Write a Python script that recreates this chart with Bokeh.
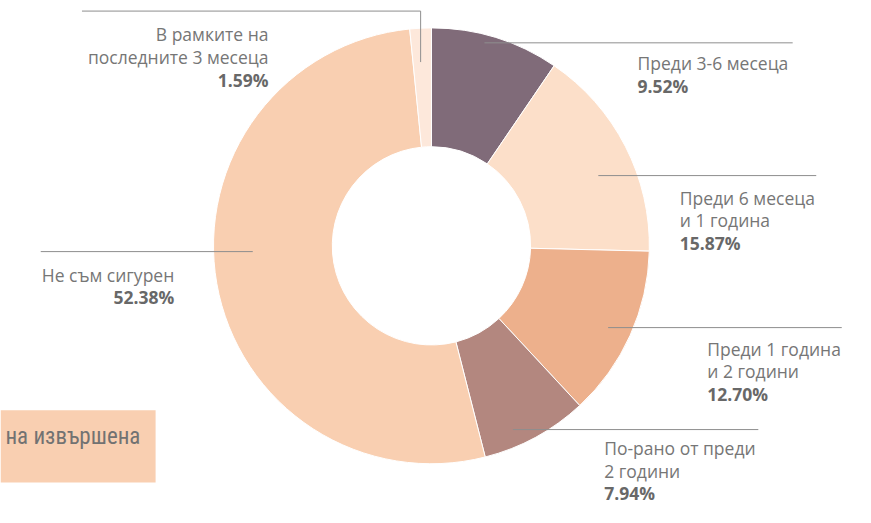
import math
from bokeh.plotting import figure
from bokeh.models import Range1d, ColumnDataSource
from bokeh.core.properties import value
from bokeh.embed import file_html
from bokeh.resources import INLINE

# ---- data ----
categories = [
    "Преди 3-6 месеца",
    "Преди 6 месеца и 1 година",
    "Преди 1 година и 2 години",
    "По-рано от преди 2 години",
    "Не съм сигурен",
    "В рамките на последните 3 месеца",
]
shares = [9.52, 15.87, 12.70, 7.94, 52.38, 1.59]
label_lines = [
    ["Преди 3-6 месеца"],
    ["Преди 6 месеца", "и 1 година"],
    ["Преди 1 година", "и 2 години"],
    ["По-рано от преди", "2 години"],
    ["Не съм сигурен"],
    ["В рамките на", "последните 3 месеца"],
]
colors = ["#806b79", "#fcdfc9", "#edb08c", "#b3877f", "#f9cfb1", "#fde8db"]

# ---- layout (reference pixel coordinates, 871x523 space) ----
W, H = 871, 523
def Y(sy):
    return H - sy

cx, cy = 439, Y(255)
r_in, r_out = 101, 222

p = figure(width=855, height=507, output_backend="svg", toolbar_location=None,
           x_range=Range1d(0, W), y_range=Range1d(-4, H),
           min_border=0, outline_line_color=None)
p.axis.visible = False
p.grid.visible = False
p.background_fill_color = "white"

total = sum(shares)
starts, ends = [], []
cum = 0.0
for s in shares:
    starts.append(math.pi / 2 - 2 * math.pi * cum / total)
    cum += s
    ends.append(math.pi / 2 - 2 * math.pi * cum / total)

src = ColumnDataSource(dict(start=starts, end=ends, color=colors))
p.annular_wedge(x=cx, y=cy, inner_radius=r_in, outer_radius=r_out,
                start_angle="start", end_angle="end", direction="clock",
                fill_color="color", line_color="white", line_width=1, source=src)

# leader lines (annotation layout)
leaders = [
    ([493, 807], [44, 44]),
    ([609, 831], [182, 182]),
    ([619, 857], [340, 340]),
    ([522, 772], [446, 446]),
    ([41, 257], [261, 261]),
    ([83, 428, 428], [11, 11, 64]),
]
for xs, ys in leaders:
    p.line(xs, [Y(v) for v in ys], line_color="#8e8e8e", line_width=1)

# label anchors: (x, first-line y, align)
anchors = {
    0: (649, 65, "left"),
    1: (692, 205, "left"),
    2: (720, 362, "left"),
    3: (615, 465, "left"),
    4: (177, 285, "right"),
    5: (273, 35, "right"),
}
line_h = 23.6
font = value("Open Sans")
fs = "17.5px"
for i, lines in enumerate(label_lines):
    ax, ay, al = anchors[i]
    for j, t in enumerate(lines):
        p.text(x=[ax], y=[Y(ay + j * line_h)], text=[t], text_align=al,
               text_baseline="middle", text_font=font, text_font_size=fs,
               text_color="#767676")
    pct = f"{shares[i]:.2f}%"
    p.text(x=[ax], y=[Y(ay + len(lines) * line_h)], text=[pct], text_align=al,
           text_baseline="middle", text_font=font, text_font_size=fs,
           text_font_style="bold", text_color="#686868")

# orange box with cropped title fragment
p.quad(left=[0], right=[158], top=[Y(426)], bottom=[Y(501)],
       fill_color="#f9cfb1", line_color=None)
p.text(x=[5], y=[Y(453)], text=["на извършена"], text_align="left",
       text_baseline="middle",
       text_font=value("'Noto Sans ExtraCondensed', 'Noto Sans Condensed', 'Roboto Condensed', 'DejaVu Sans Condensed', Roboto, sans-serif"),
       text_font_size="23px", text_color="#727272")

open("out.html", "w").write(file_html(p, INLINE))
